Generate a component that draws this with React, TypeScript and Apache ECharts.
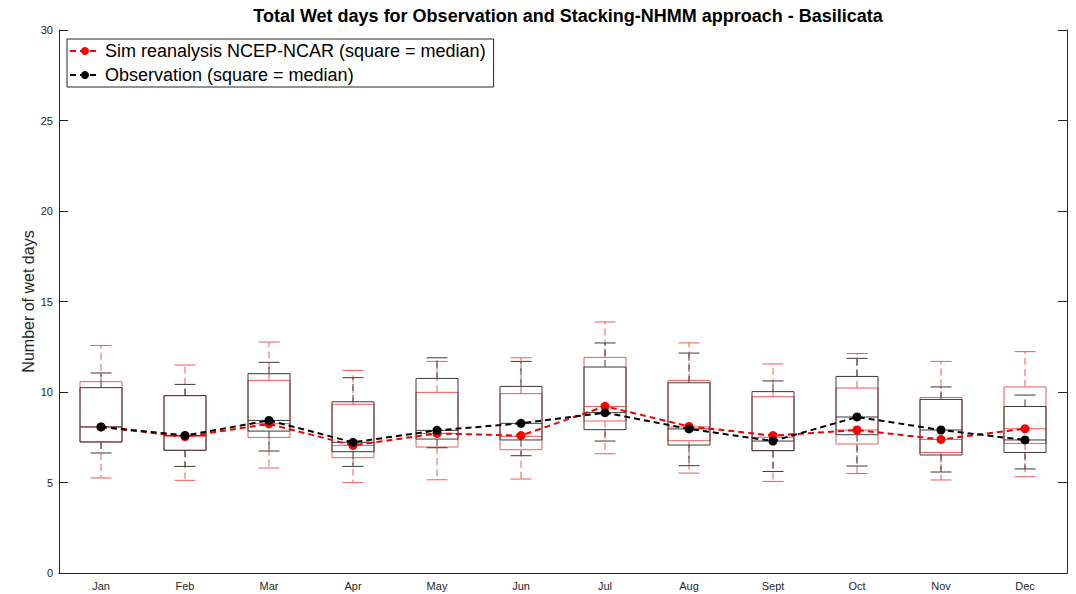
import React, { useEffect, useRef } from "react";
import * as echarts from "echarts";

const months = ["Jan", "Feb", "Mar", "Apr", "May", "Jun", "Jul", "Aug", "Sept", "Oct", "Nov", "Dec"];
const yTicks = [0, 5, 10, 15, 20, 25, 30];

// Sim reanalysis NCEP-NCAR
const simLower = [5.25, 5.12, 5.8, 4.99, 5.15, 5.19, 6.59, 5.52, 5.06, 5.5, 5.14, 5.32];
const simQ1 = [7.24, 6.78, 7.49, 6.37, 6.96, 6.81, 8.4, 7.31, 6.76, 7.13, 6.66, 7.16];
const simMedian = [8.07, 7.55, 8.25, 7.05, 7.71, 7.55, 9.2, 8.07, 7.5, 7.9, 7.38, 7.97];
const simQ3 = [10.57, 9.8, 10.64, 9.32, 9.98, 9.91, 11.91, 10.64, 9.74, 10.22, 9.7, 10.28];
const simUpper = [12.57, 11.49, 12.76, 11.19, 11.69, 11.89, 13.87, 12.71, 11.55, 12.13, 11.69, 12.23];
const simMean = [8.07, 7.53, 8.24, 7.05, 7.71, 7.59, 9.21, 8.1, 7.59, 7.9, 7.38, 7.97];

// Observation
const obsLower = [6.63, 5.89, 6.74, 5.89, 6.92, 6.48, 7.29, 5.93, 5.61, 5.91, 5.58, 5.75];
const obsQ1 = [7.24, 6.78, 7.84, 6.7, 7.4, 7.35, 7.92, 7.07, 6.76, 7.64, 6.52, 6.66];
const obsMedian = [8.07, 7.6, 8.43, 7.22, 7.88, 8.27, 8.86, 7.96, 7.29, 8.62, 7.9, 7.35];
const obsQ3 = [10.24, 9.8, 11.01, 9.46, 10.75, 10.31, 11.38, 10.51, 10.02, 10.86, 9.59, 9.2];
const obsUpper = [11.05, 10.42, 11.64, 10.79, 11.89, 11.69, 12.71, 12.15, 10.61, 11.86, 10.28, 9.83];
const obsMean = [8.07, 7.6, 8.43, 7.22, 7.88, 8.27, 8.86, 7.96, 7.29, 8.62, 7.9, 7.35];

const SIM_NAME = "Sim reanalysis NCEP-NCAR (square = median)";
const OBS_NAME = "Observation (square = median)";
const FONT = "'Liberation Sans', Arial, Helvetica, sans-serif";
const AXIS_COLOR = "#262626";

function boxRows(lower: number[], q1: number[], med: number[], q3: number[], upper: number[]) {
  return months.map((_, i) => [i, lower[i], q1[i], med[i], q3[i], upper[i]]);
}

function makeRenderItem(boxColor: string, whiskerColor: string) {
  return (params: any, api: any) => {
    const x = api.value(0);
    const pLow = api.coord([x, api.value(1)]);
    const pQ1 = api.coord([x, api.value(2)]);
    const pMed = api.coord([x, api.value(3)]);
    const pQ3 = api.coord([x, api.value(4)]);
    const pUp = api.coord([x, api.value(5)]);
    const band = api.size([1, 0])[0];
    const bw = band * 0.5;
    const cw = band * 0.25;
    const cx = pMed[0];
    const dash = { stroke: whiskerColor, lineWidth: 1, lineDash: [7, 4], fill: "none" };
    const solid = { stroke: boxColor, lineWidth: 1, fill: "none" };
    return {
      type: "group",
      children: [
        { type: "line", shape: { x1: cx, y1: pQ3[1], x2: cx, y2: pUp[1] }, style: dash },
        { type: "line", shape: { x1: cx, y1: pQ1[1], x2: cx, y2: pLow[1] }, style: dash },
        { type: "line", shape: { x1: cx - cw / 2, y1: pUp[1], x2: cx + cw / 2, y2: pUp[1] }, style: solid },
        { type: "line", shape: { x1: cx - cw / 2, y1: pLow[1], x2: cx + cw / 2, y2: pLow[1] }, style: solid },
        {
          type: "rect",
          shape: { x: cx - bw / 2, y: pQ3[1], width: bw, height: pQ1[1] - pQ3[1] },
          style: solid,
        },
        { type: "line", shape: { x1: cx - bw / 2, y1: pMed[1], x2: cx + bw / 2, y2: pMed[1] }, style: solid },
      ],
    };
  };
}

export default function App() {
  const ref = useRef<HTMLDivElement>(null);
  useEffect(() => {
    if (!ref.current) return;
    const chart = echarts.init(ref.current, null, { renderer: "svg" });
    const tickCommon = { inside: true, length: 9, lineStyle: { color: AXIS_COLOR } };
    chart.setOption({
      animation: false,
      backgroundColor: "#fff",
      textStyle: { fontFamily: FONT },
      title: {
        text: "Total Wet days for Observation and Stacking-NHMM approach - Basilicata",
        left: 563,
        textAlign: "center",
        top: 2,
        textStyle: { fontSize: 18, fontWeight: "bold", color: "#000", fontFamily: FONT },
      },
      legend: {
        data: [SIM_NAME, OBS_NAME],
        orient: "vertical",
        left: 67,
        top: 39,
        itemWidth: 30,
        itemHeight: 10,
        itemGap: 6,
        padding: [3, 8, 3, 2],
        borderColor: AXIS_COLOR,
        borderWidth: 1,
        backgroundColor: "#fff",
        textStyle: { fontSize: 18, color: "#000", fontFamily: FONT },
      },
      grid: { left: 59, right: 9, top: 30, bottom: 21 },
      xAxis: [
        {
          type: "category",
          data: months,
          boundaryGap: true,
          axisLine: { lineStyle: { color: AXIS_COLOR } },
          axisTick: { ...tickCommon, alignWithLabel: true },
          axisLabel: { color: AXIS_COLOR, fontSize: 11, margin: 7, fontFamily: FONT },
          splitLine: { show: false },
        },
        {
          type: "category",
          data: months,
          position: "top",
          boundaryGap: true,
          axisLine: { lineStyle: { color: AXIS_COLOR } },
          axisTick: { ...tickCommon, alignWithLabel: true },
          axisLabel: { show: false },
          splitLine: { show: false },
        },
      ],
      yAxis: [
        {
          type: "value",
          min: yTicks[0],
          max: yTicks[yTicks.length - 1],
          interval: yTicks[1] - yTicks[0],
          name: "Number of wet days",
          nameLocation: "middle",
          nameGap: 23,
          nameMoveOverlap: false,
          nameTextStyle: { fontSize: 16, color: AXIS_COLOR, fontFamily: FONT },
          axisLine: { show: true, lineStyle: { color: AXIS_COLOR } },
          axisTick: { show: true, ...tickCommon },
          axisLabel: { color: AXIS_COLOR, fontSize: 11, margin: 6, fontFamily: FONT },
          splitLine: { show: false },
        },
        {
          type: "value",
          position: "right",
          min: yTicks[0],
          max: yTicks[yTicks.length - 1],
          interval: yTicks[1] - yTicks[0],
          axisLine: { show: true, lineStyle: { color: AXIS_COLOR } },
          axisTick: { show: true, ...tickCommon },
          axisLabel: { show: false },
          splitLine: { show: false },
        },
      ],
      series: [
        {
          name: "simBox",
          type: "custom",
          xAxisIndex: 0,
          yAxisIndex: 0,
          renderItem: makeRenderItem("#f05a5a", "#f05a5a"),
          encode: { x: 0, y: [1, 2, 3, 4, 5] },
          data: boxRows(simLower, simQ1, simMedian, simQ3, simUpper),
          z: 2,
          silent: true,
        },
        {
          name: "obsBox",
          type: "custom",
          xAxisIndex: 0,
          yAxisIndex: 0,
          renderItem: makeRenderItem("#3a3a3a", "#3a3a3a"),
          encode: { x: 0, y: [1, 2, 3, 4, 5] },
          data: boxRows(obsLower, obsQ1, obsMedian, obsQ3, obsUpper),
          z: 3,
          silent: true,
        },
        {
          name: SIM_NAME,
          type: "line",
          data: simMean,
          symbol: "circle",
          symbolSize: 9,
          showSymbol: true,
          lineStyle: { color: "#f00000", width: 2, type: [6, 4] },
          itemStyle: { color: "#ff0000", borderWidth: 0 },
          z: 4,
        },
        {
          name: OBS_NAME,
          type: "line",
          data: obsMean,
          symbol: "circle",
          symbolSize: 9,
          showSymbol: true,
          lineStyle: { color: "#000", width: 2, type: [6, 4] },
          itemStyle: { color: "#000", borderWidth: 0 },
          z: 5,
        },
      ],
    });
    return () => chart.dispose();
  }, []);
  return (
    <div
      ref={ref}
      style={{ position: "fixed", left: 0, top: 0, width: 1076, height: 594 }}
    />
  );
}
